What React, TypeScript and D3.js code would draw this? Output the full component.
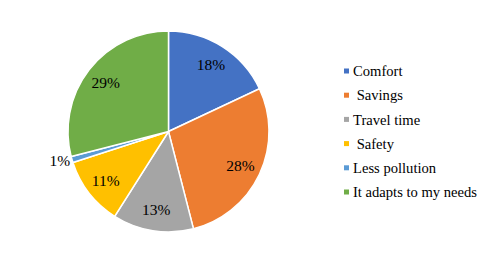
import React, { useEffect, useRef } from 'react';
import * as d3 from 'd3';

const categories = ['Comfort', ' Savings', 'Travel time', ' Safety', 'Less pollution', 'It adapts to my needs'];
const shares = [18, 28, 13, 11, 1, 29];
const colors = ['#4472C4', '#ED7D31', '#A5A5A5', '#FFC000', '#5B9BD5', '#70AD47'];

const FONT = "'Liberation Serif', 'Times New Roman', serif";

const App = () => {
    const svgRef = useRef<SVGSVGElement>(null);

    useEffect(() => {
        const svg = d3.select(svgRef.current);
        svg.selectAll('*').remove();

        const cx = 168.5;
        const cy = 131.5;
        const radius = 100.5;

        const rows = categories.map((name, i) => ({ name, value: shares[i], color: colors[i] }));

        const pie = d3.pie<any>().value(d => d.value).sort(null);
        const arcs = pie(rows);

        const arc = d3.arc<any>().innerRadius(0).outerRadius(radius);
        const labelArc = d3.arc<any>().innerRadius(radius * 0.79).outerRadius(radius * 0.79);
        const outerArc = d3.arc<any>().innerRadius(radius + 2).outerRadius(radius + 2);

        const g = svg.append('g').attr('transform', `translate(${cx},${cy})`);

        g.selectAll('path.slice')
            .data(arcs)
            .enter()
            .append('path')
            .attr('class', 'slice')
            .attr('d', arc)
            .attr('fill', d => d.data.color)
            .attr('stroke', '#fff')
            .attr('stroke-width', 1.5);

        // percentage labels, small slices go outside
        g.selectAll('text.pct')
            .data(arcs)
            .enter()
            .append('text')
            .attr('class', 'pct')
            .attr('transform', d => {
                const [x, y] = d.data.value < 3 ? outerArc.centroid(d) : labelArc.centroid(d);
                return `translate(${x},${y})`;
            })
            .attr('text-anchor', d => (d.data.value < 3 ? 'end' : 'middle'))
            .attr('dy', '0.35em')
            .style('font-family', FONT)
            .style('font-size', '15.5px')
            .attr('fill', '#000')
            .text(d => `${d.data.value}%`);

        // legend
        const legend = svg.append('g').attr('transform', 'translate(344,71)');
        const rowStep = 24.2;

        const item = legend.selectAll('g.item')
            .data(rows)
            .enter()
            .append('g')
            .attr('class', 'item')
            .attr('transform', (d, i) => `translate(0,${i * rowStep})`);

        item.append('rect')
            .attr('x', 0)
            .attr('y', -2.5)
            .attr('width', 5)
            .attr('height', 5)
            .attr('fill', d => d.color);

        item.append('text')
            .attr('x', 9)
            .attr('dy', '0.35em')
            .style('font-family', FONT)
            .style('font-size', '14.6px')
            .style('white-space', 'pre')
            .attr('fill', '#000')
            .text(d => d.name);
    }, []);

    return (
        <svg ref={svgRef} width="492" height="265" style={{ position: 'absolute', left: 0, top: 0 }}></svg>
    );
};

export default App;
